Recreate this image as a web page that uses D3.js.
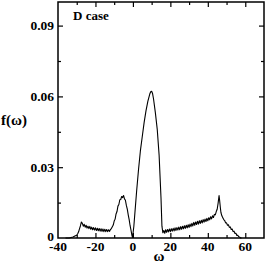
<!DOCTYPE html>
<html>
<head>
<meta charset="utf-8">
<script src="https://cdn.jsdelivr.net/npm/d3@7"></script>
<style>
  body { margin: 0; background: #fff; }
  svg { display: block; }
</style>
</head>
<body>
<svg id="chart"></svg>
<script>
// values
const omega = [
  -36, -34, -33, -32, -31, -30, -29.5, -29, -28.5, -28, -27.5,
  -27, -26.5, -26, -25.5, -25, -24.5, -24, -23.5, -23, -22.5, -22, -21.5, -21, -20.5, -20,
  -19.5, -19, -18.5, -18, -17.5, -17, -16.5, -16, -15.5, -15, -14.5, -14, -13.5, -13, -12.5, -12,
  -11.5, -11, -10.5, -10, -9.5, -9, -8.5, -8, -7.5, -7, -6.5, -6, -5.5, -5, -4.5, -4,
  -3.5, -3, -2.5, -2, -1.5, -1, -0.5, -0.2,
  0.5, 1, 2, 3, 4, 5, 6, 7, 8, 9, 9.5, 10, 10.5, 11, 12, 13, 14, 15, 15.5, 16,
  16.5, 17, 17.5, 18, 18.5, 19, 19.5, 20, 20.5, 21, 21.5, 22, 22.5, 23, 23.5, 24, 24.5, 25,
  25.5, 26, 26.5, 27, 27.5, 28, 28.5, 29, 29.5, 30, 30.5, 31, 31.5, 32, 32.5, 33, 33.5, 34,
  34.5, 35, 35.5, 36, 36.5, 37, 37.5, 38, 38.5, 39, 39.5, 40, 40.5, 41, 41.5, 42, 42.5, 43,
  43.5, 44, 44.5, 45, 45.5, 46, 46.3, 46.7, 47, 47.5, 48, 48.5, 49, 49.5, 50, 50.5, 51, 51.5,
  52, 52.5, 53, 53.5, 54, 54.5, 55, 55.5, 56, 56.5, 57, 57.5, 58
];
const fw = [
  0, 0, 0.0002, 0.0004, 0.0008, 0.0012, 0.0018, 0.0026, 0.0040, 0.0052, 0.0068,
  0.0062, 0.0050, 0.0058, 0.0046, 0.0054, 0.0042, 0.0050, 0.0040, 0.0049, 0.0037, 0.0046, 0.0035, 0.0044, 0.0034, 0.0043,
  0.0032, 0.0041, 0.0031, 0.0040, 0.0029, 0.0039, 0.0028, 0.0038, 0.0027, 0.0037, 0.0027, 0.0036, 0.0027, 0.0035, 0.0028, 0.0036,
  0.0040, 0.0048, 0.0055, 0.0072, 0.0080, 0.0102, 0.0112, 0.0135, 0.0142, 0.0162, 0.0163, 0.0176, 0.0171, 0.0180, 0.0166, 0.0160,
  0.0138, 0.0122, 0.0098, 0.0078, 0.0052, 0.0032, 0.0010, 0.0002,
  0.005, 0.010, 0.020, 0.029, 0.037, 0.043, 0.049, 0.054, 0.058, 0.061, 0.0620, 0.0622, 0.0612, 0.059, 0.053, 0.046, 0.035, 0.017, 0.005, 0.0022,
  0.0032, 0.0020, 0.0035, 0.0024, 0.0036, 0.0026, 0.0038, 0.0027, 0.0039, 0.0029, 0.0041, 0.0030, 0.0043, 0.0032, 0.0044, 0.0034, 0.0046, 0.0035,
  0.0048, 0.0037, 0.0050, 0.0039, 0.0052, 0.0041, 0.0054, 0.0043, 0.0056, 0.0045, 0.0059, 0.0048, 0.0062, 0.0051, 0.0066, 0.0054, 0.0068, 0.0057,
  0.0071, 0.0059, 0.0073, 0.0062, 0.0075, 0.0064, 0.0078, 0.0067, 0.0080, 0.0070, 0.0083, 0.0073, 0.0086, 0.0077, 0.0090, 0.0081, 0.0094, 0.0087,
  0.0100, 0.0098, 0.0112, 0.0122, 0.0148, 0.0180, 0.0160, 0.0128, 0.0108, 0.0094, 0.0086, 0.0078, 0.0074, 0.0064, 0.0064, 0.0054, 0.0056, 0.0045,
  0.0047, 0.0036, 0.0038, 0.0027, 0.0029, 0.0019, 0.0020, 0.0011, 0.0012, 0.0005, 0.0004, 0, 0
];
const xTicks = [-40, -20, 0, 20, 40, 60];
const xMinor = [-30, -10, 10, 30, 50, 70];
const yTicks = [0, 0.03, 0.06, 0.09];
const yTickLabels = ['0', '0.03', '0.06', '0.09'];
const yMinor = [0.015, 0.045, 0.075];

const w = 266, h = 264;
const m = { left: 58, right: 264, top: 2, bottom: 238 };
const serif = '"Liberation Serif", "Times New Roman", Times, serif';

const svg = d3.select('#chart').attr('width', w).attr('height', h);

const xScale = d3.scaleLinear().domain([-40, 70]).range([m.left, m.right]);
const yScale = d3.scaleLinear().domain([0, 0.1]).range([m.bottom, m.top]);

// frame
svg.append('rect')
  .attr('x', m.left).attr('y', m.top)
  .attr('width', m.right - m.left).attr('height', m.bottom - m.top)
  .attr('fill', 'none').attr('stroke', '#000').attr('stroke-width', 1.5);

// ticks on all four sides, pointing inward
function xTickMarks(values, len) {
  svg.append('g').call(d3.axisBottom(xScale).tickValues(values).tickSize(len).tickFormat(''))
    .attr('transform', `translate(0,${m.bottom - len})`)
    .call(g => g.select('.domain').remove());
  svg.append('g').call(d3.axisTop(xScale).tickValues(values).tickSize(len).tickFormat(''))
    .attr('transform', `translate(0,${m.top + len})`)
    .call(g => g.select('.domain').remove());
}
function yTickMarks(values, len) {
  svg.append('g').call(d3.axisLeft(yScale).tickValues(values).tickSize(len).tickFormat(''))
    .attr('transform', `translate(${m.left + len},0)`)
    .call(g => g.select('.domain').remove());
  svg.append('g').call(d3.axisRight(yScale).tickValues(values).tickSize(len).tickFormat(''))
    .attr('transform', `translate(${m.right - len},0)`)
    .call(g => g.select('.domain').remove());
}
xTickMarks(xTicks.filter(d => d > -40 && d < 70), 5);
xTickMarks(xMinor.filter(d => d > -40 && d < 70), 3);
yTickMarks(yTicks.filter(d => d > 0), 5);
yTickMarks(yMinor, 3);
svg.selectAll('.tick line').attr('stroke', '#000').attr('stroke-width', 1.2);

// tick labels
svg.append('g').selectAll('text')
  .data(xTicks)
  .enter()
  .append('text')
  .attr('x', d => xScale(d))
  .attr('y', m.bottom + 13)
  .attr('text-anchor', 'middle')
  .attr('font-family', serif).attr('font-weight', 'bold')
  .attr('font-size', 13.5)
  .text(d => d);
svg.append('g').selectAll('text')
  .data(yTicks)
  .enter()
  .append('text')
  .attr('x', m.left - 4)
  .attr('y', d => yScale(d) + (d === 0 ? 3 : 4.5))
  .attr('text-anchor', 'end')
  .attr('font-family', serif).attr('font-weight', 'bold')
  .attr('font-size', 13.5)
  .text((d, i) => yTickLabels[i]);

// axis titles
svg.append('text').attr('x', 1).attr('y', 125)
  .attr('font-family', serif).attr('font-weight', 'bold').attr('font-size', 15).text('f(ω)');
svg.append('text').attr('x', 159).attr('y', 261).attr('text-anchor', 'middle')
  .attr('font-family', serif).attr('font-weight', 'bold').attr('font-size', 15).text('ω');
svg.append('text').attr('x', 73).attr('y', 20)
  .attr('font-family', serif).attr('font-weight', 'bold').attr('font-size', 13).text('D case');

// curve
const line = d3.line()
  .x((d, i) => xScale(omega[i]))
  .y(d => yScale(d));
svg.append('path')
  .datum(fw)
  .attr('d', line)
  .attr('fill', 'none')
  .attr('stroke', '#000')
  .attr('stroke-width', 1.1)
  .attr('stroke-linejoin', 'round');
</script>
</body>
</html>
